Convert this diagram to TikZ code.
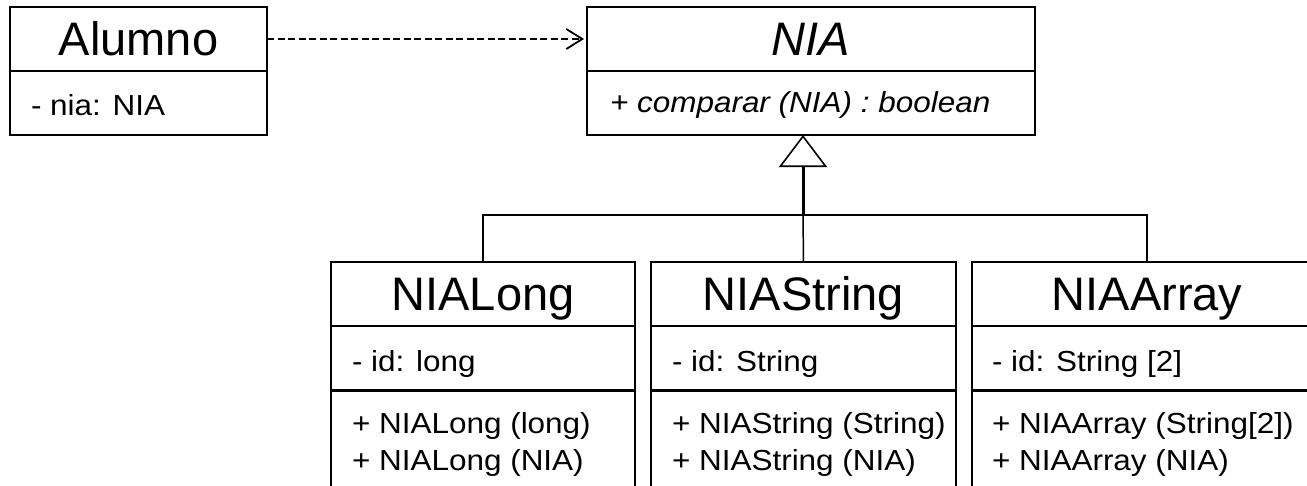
\documentclass[tikz,border=0pt]{standalone}
\usepackage{fontspec}
\setmainfont{Liberation Sans}
\newfontfamily\smallf[FakeStretch=1.085]{Liberation Sans}
\usetikzlibrary{arrows.meta}
\begin{document}
\begin{tikzpicture}[x=1pt,y=-1pt,
  comp/.style={draw=black, line width=2pt, rectangle, inner sep=0pt, outer sep=0pt, anchor=north west, minimum height=64pt},
  classtitle/.style={comp, font=\fontsize{47}{47}\selectfont, text height=33.7pt, text depth=0pt},
  classtitleit/.style={classtitle, font=\itshape\fontsize{47}{47}\selectfont},
  member/.style={font=\smallf\fontsize{29}{29}\selectfont, anchor=base west, inner sep=0pt, outer sep=0pt},
  memberit/.style={member, font=\smallf\itshape\fontsize{29}{29}\selectfont},
  thickdiv/.style={line width=3pt},
  conn/.style={line width=1.5pt},
  trunk/.style={line width=3pt, -{Triangle[open, length=32pt, width=48pt, line width=1.6pt]}},
  dep/.style={line width=1.8pt, dash pattern=on 7pt off 3.5pt, -{Straight Barb[length=16pt, width=20pt, line width=1.8pt]}, shorten >=3pt}
]
\useasboundingbox (0,0) rectangle (1307,485);
\clip (0,0) rectangle (1307,485);

% Alumno
\node[classtitle, minimum width=257pt] (alumnoT) at (10,7) {Alumno};
\node[comp, minimum width=257pt] (alumnoA) at (10,71) {};
\node[member] (alumnoM1) at (31,115) {- nia: NIA};

% NIA
\node[classtitleit, minimum width=448pt] (niaT) at (587,7) {NIA};
\node[comp, minimum width=448pt] (niaA) at (587,71) {};
\node[memberit] (niaM1) at (610,112) {+ comparar (NIA) : boolean};

% NIALong
\node[classtitle, minimum width=304pt] (longT) at (331,262) {NIALong};
\node[comp, minimum width=304pt] (longA) at (331,326) {};
\node[comp, minimum width=304pt, minimum height=130pt] (longO) at (331,390) {};
\draw[thickdiv] (longO.north west) -- (longO.north east);
\node[member] (longM1) at (352,371) {- id: long};
\node[member] (longM2) at (352,433) {+ NIALong (long)};
\node[member] (longM3) at (352,470) {+ NIALong (NIA)};

% NIAString
\node[classtitle, minimum width=305pt] (strT) at (651,262) {NIAString};
\node[comp, minimum width=305pt] (strA) at (651,326) {};
\node[comp, minimum width=305pt, minimum height=130pt] (strO) at (651,390) {};
\draw[thickdiv] (strO.north west) -- (strO.north east);
\node[member] (strM1) at (672,371) {- id: String};
\node[member] (strM2) at (672,433) {+ NIAString (String)};
\node[member] (strM3) at (672,470) {+ NIAString (NIA)};

% NIAArray
\node[classtitle, minimum width=350pt] (arrT) at (972,262) {NIAArray};
\node[comp, minimum width=350pt] (arrA) at (972,326) {};
\node[comp, minimum width=350pt, minimum height=130pt] (arrO) at (972,390) {};
\draw[thickdiv] (arrO.north west) -- (arrO.north east);
\node[member] (arrM1) at (992,371) {- id: String [2]};
\node[member] (arrM2) at (992,433) {+ NIAArray (String[2])};
\node[member] (arrM3) at (992,470) {+ NIAArray (NIA)};

% dependency
\draw[dep] (alumnoT.east) -- (niaT.west);

% generalization
\coordinate (bus) at (803,215);
\draw[conn] (longT.north) |- (bus) -| (arrT.north);
\draw[conn] (strT.north) -- (bus);
\draw[trunk] (bus) -- (niaA.south -| bus);
\end{tikzpicture}
\end{document}
